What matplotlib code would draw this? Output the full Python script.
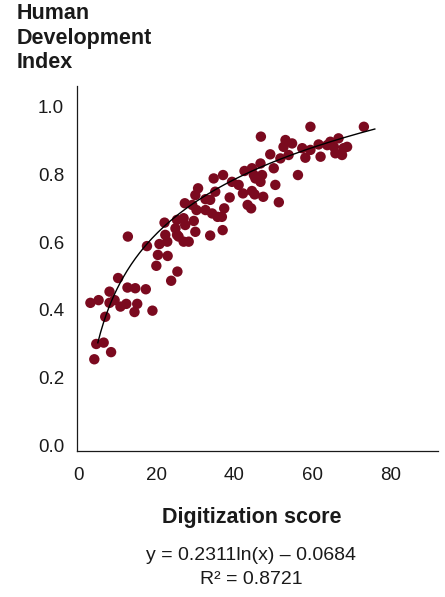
import numpy as np
import matplotlib
matplotlib.use("Agg")
import matplotlib.pyplot as plt

# Digitization score (x) and Human Development Index (y)
digitization = [
    12.7, 17.6, 20.8, 22.3, 22.8, 25.3, 20.4, 22.9, 20.0, 25.4,
    23.8, 10.2, 12.6, 14.6, 17.3, 8.0, 5.2, 3.1, 8.0, 9.3,
    10.8, 12.3, 15.1, 14.4, 19.0, 6.9, 4.6, 6.5, 8.4, 4.1,
    34.7, 37.1, 39.4, 41.1, 30.7, 30.0, 35.1, 32.6, 33.8, 38.8,
    27.3, 29.2, 30.3, 32.6, 34.3, 35.7, 37.4, 25.3, 27.0, 22.1,
    29.6, 24.9, 27.4, 30.0, 37.0, 33.8, 25.7, 27.0, 28.3, 59.5,
    46.8, 53.1, 54.8, 52.6, 57.4, 59.5, 61.6, 63.8, 49.2, 51.8,
    53.9, 58.2, 62.1, 46.7, 44.5, 42.6, 50.1, 45.0, 47.1, 56.3,
    45.4, 46.7, 50.5, 42.2, 44.5, 45.2, 47.4, 51.4, 43.4, 44.3,
    36.8, 73.2, 64.6, 66.7, 65.5, 68.0, 65.9, 67.6, 68.9,
]
hdi = [
    0.616, 0.588, 0.594, 0.621, 0.601, 0.621, 0.562, 0.559, 0.530, 0.513,
    0.486, 0.494, 0.466, 0.464, 0.461, 0.454, 0.429, 0.421, 0.421, 0.429,
    0.410, 0.418, 0.418, 0.394, 0.398, 0.380, 0.300, 0.304, 0.276, 0.255,
    0.787, 0.797, 0.777, 0.768, 0.758, 0.738, 0.748, 0.726, 0.724, 0.731,
    0.714, 0.709, 0.694, 0.694, 0.684, 0.674, 0.699, 0.665, 0.670, 0.657,
    0.662, 0.640, 0.650, 0.630, 0.635, 0.619, 0.616, 0.601, 0.601, 0.939,
    0.910, 0.900, 0.890, 0.880, 0.876, 0.871, 0.887, 0.885, 0.858, 0.846,
    0.856, 0.848, 0.851, 0.831, 0.817, 0.809, 0.817, 0.797, 0.797, 0.797,
    0.787, 0.777, 0.768, 0.743, 0.750, 0.740, 0.733, 0.717, 0.709, 0.699,
    0.674, 0.939, 0.895, 0.905, 0.880, 0.876, 0.861, 0.856, 0.880,
]

# Logarithmic fit shown on the chart
fit_a = 0.2311
fit_b = -0.0684
fit_range = [5, 76]

x_ticks = [0, 20, 40, 60, 80]
y_ticks = [0.0, 0.2, 0.4, 0.6, 0.8, 1.0]
y_tick_labels = ["0.0", "0.2", "0.4", "0.6", "0.8", "1.0"]

y_title = "Human\nDevelopment\nIndex"
x_title = "Digitization score"
eq_text = "y = 0.2311ln(x) \u2013 0.0684"
r2_text = "R\u00b2 = 0.8721"

plt.rcParams["font.family"] = ["Liberation Sans", "DejaVu Sans"]

W, H = 445, 597
fig = plt.figure(figsize=(W / 100, H / 100), dpi=100)
ax = fig.add_axes([77.3 / W, (H - 450.7) / H, (438 - 77.3) / W, (450.7 - 86) / H])

ax.scatter(digitization, hdi, s=56, color="#7b0a1f", edgecolors="none", zorder=2)

xf = np.linspace(fit_range[0], fit_range[1], 200)
ax.plot(xf, fit_a * np.log(xf) + fit_b, color="black", lw=1.0, zorder=3)

ax.set_xlim(-0.26, 92.2)
ax.set_ylim(-0.014, 1.059)
ax.set_xticks(x_ticks)
ax.set_yticks(y_ticks)
ax.set_yticklabels(y_tick_labels)
ax.tick_params(axis="both", length=0, labelsize=13.5, colors="#1a1a1a")
ax.tick_params(axis="y", pad=9.5)
ax.tick_params(axis="x", pad=11.5)
for s in ["top", "right"]:
    ax.spines[s].set_visible(False)
for s in ["left", "bottom"]:
    ax.spines[s].set_linewidth(0.9)
    ax.spines[s].set_color("#1a1a1a")

fig.text(17 / W, 1 - 3 / H, y_title, ha="left", va="top", fontsize=15.5,
         fontweight="bold", color="#1a1a1a", linespacing=1.22)
fig.text(252 / W, 1 - 517 / H, x_title, ha="center", va="center", fontsize=15.5,
         fontweight="bold", color="#1a1a1a")
fig.text(251 / W, 1 - 556 / H, eq_text, ha="center", va="center", fontsize=14,
         color="#1a1a1a")
fig.text(251 / W, 1 - 580 / H, r2_text, ha="center", va="center", fontsize=14,
         color="#1a1a1a")

fig.savefig("out.png", dpi=100)
